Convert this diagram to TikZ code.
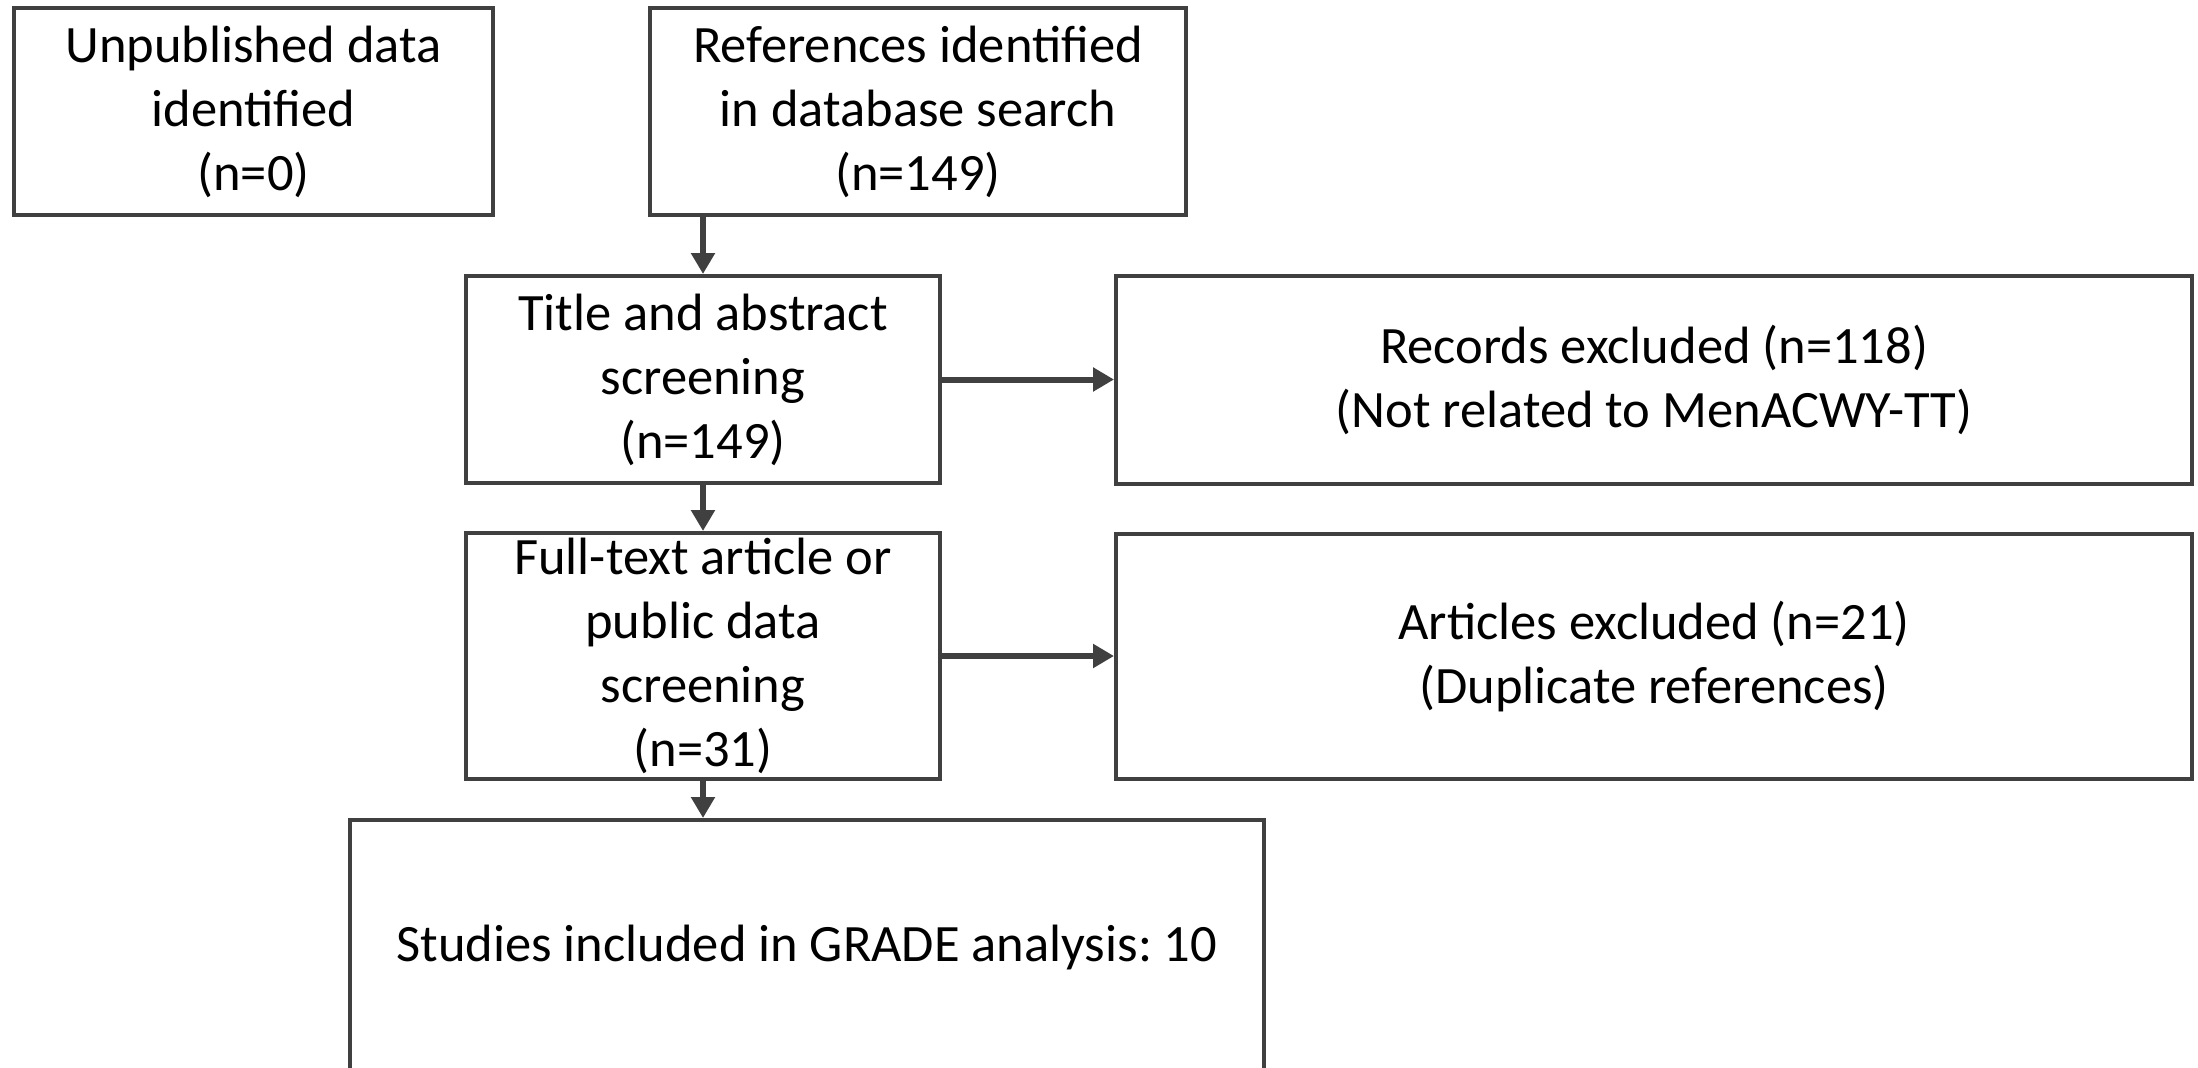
\documentclass[tikz,border=0pt]{standalone}
\usepackage{fontspec}
\setmainfont{Carlito}
\usetikzlibrary{arrows.meta}
\definecolor{linegray}{HTML}{404040}
\frenchspacing
\begin{document}
\begin{tikzpicture}[x=1pt,y=-1pt,
  box/.style={draw=linegray, line width=4pt, align=center, inner sep=0pt,
    font=\fontsize{52.5}{64}\selectfont, text=black},
  flow/.style={draw=linegray, line width=6pt, -{Triangle[length=21pt,width=23pt]}}]
\useasboundingbox[fill=white] (0,0) rectangle (2198,1068);
\node[box, minimum width=479pt, minimum height=207pt] (unpub) at (253.5,111.5)
  {Unpublished data\\identified\\(n=0)};
\node[box, minimum width=536pt, minimum height=207pt] (refs) at (918,111.5)
  {References identified\\in database search\\(n=149)};
\node[box, minimum width=474pt, minimum height=207pt] (title) at (703,379.5)
  {Title and abstract\\screening\\(n=149)};
\node[box, minimum width=1076pt, minimum height=208pt] (records) at (1654,380)
  {Records excluded (n=118)\\(Not related to MenACWY-TT)};
\node[box, minimum width=474pt, minimum height=246pt] (full) at (703,656)
  {Full-text article or\\public data\\screening\\(n=31)};
\node[box, minimum width=1076pt, minimum height=245pt] (articles) at (1654,656.5)
  {Articles excluded (n=21)\\(Duplicate references)};
\node[box, minimum width=914pt, minimum height=254pt] (studies) at (807,947)
  {Studies included in GRADE analysis: 10};
\draw[flow] (refs.south -| title.north) -- (title.north);
\draw[flow] (title.south) -- (full.north);
\draw[flow] (full.south) -- (full.south |- studies.north);
\draw[flow] (title.east) -- (title.east -| records.west);
\draw[flow] (full.east) -- (full.east -| articles.west);
\end{tikzpicture}
\end{document}
